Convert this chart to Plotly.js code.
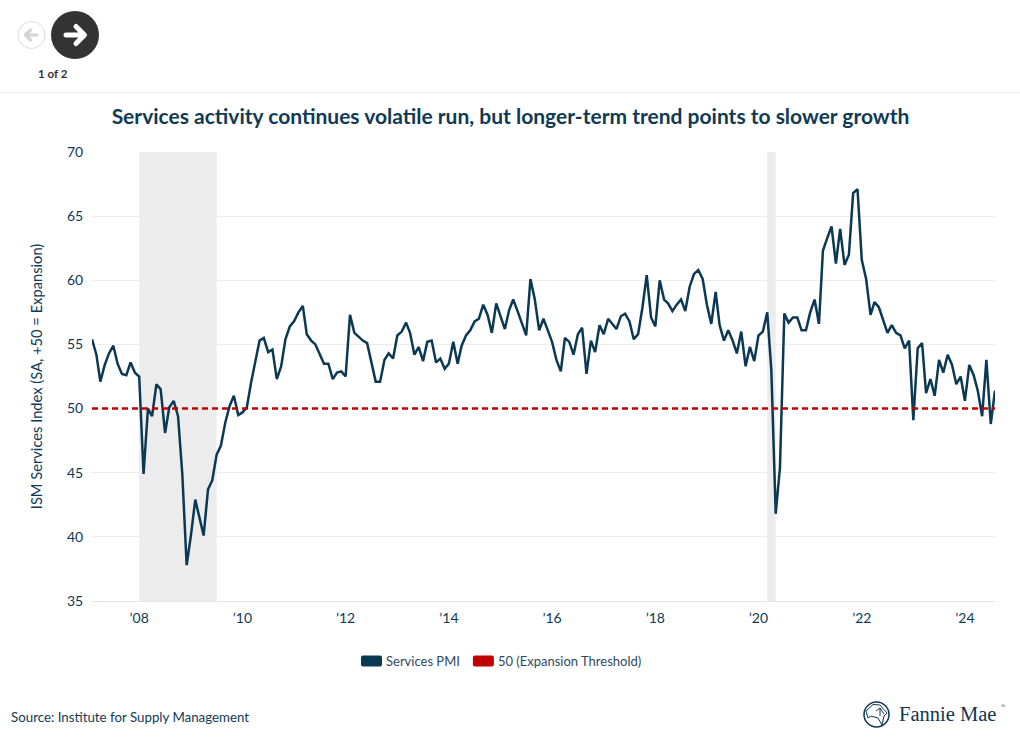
<!DOCTYPE html>
<html><head><meta charset="utf-8">
<script src="https://cdn.plot.ly/plotly-3.0.1.min.js"></script>
<style>
html,body{margin:0;padding:0;background:#fff;overflow:hidden}
#chart{position:absolute;left:0;top:0;width:1020px;height:743px}
#decor{position:absolute;left:0;top:0;pointer-events:none}
</style></head><body>
<div id="chart"></div>
<svg id="decor" width="1020" height="743" xmlns="http://www.w3.org/2000/svg">
  <circle cx="31.5" cy="35" r="13.5" fill="#fff" stroke="#dcdcdc" stroke-width="1"/>
  <path d="M37,35H26M30.5,30L25.5,35L30.5,40" fill="none" stroke="#d4d4d4" stroke-width="3.2" stroke-linecap="round" stroke-linejoin="round"/>
  <circle cx="75" cy="35" r="24" fill="#333333"/>
  <path d="M66,35H83M76,26.5L84.5,35L76,43.5" fill="none" stroke="#fff" stroke-width="5" stroke-linecap="round" stroke-linejoin="round"/>
  <g fill="none" stroke="#0f3550">
    <circle cx="876.5" cy="714.5" r="12.5" stroke-width="1.5"/>
    <path d="M866,711L873,704.5L880,705L887,713L884,716L882,725L878,718L871,716L868,718Z" stroke-width="1"/>
    <path d="M880,708L884,714M876,711L880,708L880,716" stroke-width="1"/>
  </g>
</svg>
<script>
var seriesName = 'Services PMI';
var thresholdName = '50 (Expansion Threshold)';
var startYear = 2007;
var pmiValues = [
55.4,54.2,52.1,53.4,54.3,54.9,53.5,52.7,52.6,53.6,52.8,52.5,
44.9,50.0,49.4,51.9,51.5,48.1,50.1,50.6,49.4,44.9,37.8,40.1,
42.9,41.4,40.1,43.7,44.4,46.4,47.1,48.9,50.2,51.0,49.5,49.7,
50.1,52.1,53.6,55.3,55.5,54.4,54.6,52.3,53.3,55.4,56.4,56.8,
57.5,58.0,55.8,55.3,55.0,54.3,53.5,53.5,52.3,52.8,52.9,52.5,
57.3,55.9,55.6,55.3,55.1,53.6,52.1,52.1,53.8,54.3,53.9,55.7,
56.0,56.7,55.9,54.2,54.8,53.7,55.2,55.3,53.6,53.9,53.1,53.5,
55.2,53.5,54.9,55.7,56.1,56.8,57.0,58.1,57.3,55.9,58.2,57.2,
56.2,57.7,58.5,57.6,56.7,55.7,60.1,58.5,56.1,57.0,56.1,55.2,
53.8,52.9,55.5,55.2,54.2,55.8,56.3,52.7,55.3,54.4,56.5,55.8,
57.0,56.6,56.2,57.2,57.4,56.8,55.4,55.8,57.9,60.4,57.1,56.4,
60.0,58.5,58.2,57.6,58.1,58.5,57.6,59.5,60.5,60.8,60.1,58.1,
56.6,59.1,56.5,55.3,56.1,55.3,54.3,56.0,53.3,54.8,53.7,55.7,
56.0,57.5,53.0,41.8,45.4,57.4,56.7,57.1,57.1,56.1,56.1,57.5,
58.5,56.6,62.3,63.3,64.2,61.3,64.0,61.2,62.0,66.8,67.1,61.6,
60.1,57.3,58.3,57.9,56.9,55.9,56.5,55.9,55.7,54.7,55.3,49.1,
54.7,55.1,51.2,52.3,51.0,53.8,52.8,54.2,53.4,51.9,52.5,50.6,
53.4,52.6,51.4,49.4,53.8,48.8,51.4
];
var thresholdDates = ['2007-01-01','2024-07-01'];
var thresholdValues = [50,50];
var tickDates = ['2007-12-01','2009-12-01','2011-12-01','2013-12-01','2015-12-01','2017-12-01','2019-12-01','2021-12-01','2023-12-01'];
var tickLabels = ['’08','’10','’12','’14','’16','’18','’20','’22','’24'];
var recessions = [['2007-12-01','2009-06-01'],['2020-02-01','2020-04-01']];

var pmiDates = pmiValues.map(function(_,i){
  var y = startYear + Math.floor(i/12), m = i%12 + 1;
  return y + '-' + (m<10?'0':'') + m + '-01';
});

var NAVY='#0b3954', RED='#c00000', FONT='"Lato",sans-serif', TEXT='#0f3a55';

var traces = [
 {x:pmiDates,y:pmiValues,name:seriesName,type:'scatter',mode:'lines',line:{color:NAVY,width:2.5,shape:'linear'}},
 {x:thresholdDates,y:thresholdValues,name:thresholdName,type:'scatter',mode:'lines',line:{color:RED,width:2.5,dash:'6px,4px'}}
];
var shapes = recessions.map(function(r){
  return {type:'rect',xref:'x',yref:'paper',x0:r[0],x1:r[1],y0:0,y1:1,fillcolor:'#ececec',line:{width:0},layer:'below'};
});
shapes.push({type:'line',xref:'paper',yref:'paper',x0:-92/903,x1:928/903,y0:(601-92.5)/449,y1:(601-92.5)/449,line:{color:'#e9e9e9',width:1}});

var layout = {
  width:1020,height:743,
  margin:{l:92,r:25,t:152,b:142,pad:0},
  paper_bgcolor:'#fff',plot_bgcolor:'#fff',
  font:{family:FONT,color:TEXT,size:14},
  title:{text:'Services activity continues volatile run, but longer-term trend points to slower growth',
    font:{family:FONT,size:21,color:TEXT,weight:700},x:510.5/1020,xanchor:'center',y:1-117/743,yanchor:'middle'},
  xaxis:{type:'date',range:['2007-01-01','2024-07-01'],tickmode:'array',tickvals:tickDates,ticktext:tickLabels,
    showgrid:false,zeroline:false,showline:true,linecolor:'#e6e6e6',linewidth:1,ticks:'outside',ticklen:4,tickcolor:'rgba(0,0,0,0)',
    tickfont:{size:14,color:TEXT,family:FONT}},
  yaxis:{range:[35,70],tickmode:'array',tickvals:[35,40,45,50,55,60,65,70],gridcolor:'#ececec',gridwidth:1,zeroline:false,
    ticks:'outside',ticklen:5,tickcolor:'rgba(0,0,0,0)',tickfont:{size:14,color:TEXT,family:FONT},
    title:{text:'ISM Services Index (SA, +50 = Expansion)',font:{size:14.7,color:TEXT,family:FONT},standoff:20}},
  showlegend:true,
  legend:{orientation:'h',x:(346-92)/903,xanchor:'left',y:(601-646)/449,yanchor:'top',font:{size:13,color:'#2f4a5e',family:FONT},
    traceorder:'normal',itemclick:false,itemdoubleclick:false,bgcolor:'rgba(0,0,0,0)'},
  shapes:shapes,
  annotations:[
   {text:'1 of 2',xref:'paper',yref:'paper',x:(53-92)/903,y:(601-74)/449,showarrow:false,xanchor:'center',yanchor:'middle',font:{size:11.5,color:'#333',family:FONT,weight:700}},
   {text:'Source: Institute for Supply Management',xref:'paper',yref:'paper',x:(9-92)/903,y:(601-717)/449,showarrow:false,xanchor:'left',yanchor:'middle',font:{size:13.3,color:TEXT,family:FONT}},
   {text:'Fannie Mae',xref:'paper',yref:'paper',x:(897-92)/903,y:(601-714)/449,showarrow:false,xanchor:'left',yanchor:'middle',font:{size:20.5,color:'#0f3550',family:'"Liberation Serif",serif'}},
   {text:'®',xref:'paper',yref:'paper',x:(999-92)/903,y:(601-706)/449,showarrow:false,xanchor:'left',yanchor:'middle',font:{size:6,color:'#0f3550',family:'"Liberation Serif",serif'}}
  ]
};
Plotly.newPlot('chart',traces,layout,{displayModeBar:false,staticPlot:true}).then(function(gd){
  gd.querySelectorAll('.legend .legendlines path').forEach(function(p){
    var c=p.style.stroke;
    p.setAttribute('d','M17,-5.5h17a2,2 0 0 1 2,2v7a2,2 0 0 1 -2,2h-17a2,2 0 0 1 -2,-2v-7a2,2 0 0 1 2,-2z');
    p.style.strokeWidth='0';
    p.style.strokeDasharray='none';
    p.style.fill=c;
  });
  var items=gd.querySelectorAll('.legend .traces');
  if(items[1]){
    var m=/translate\(([-\d.]+)[ ,]+([-\d.]+)\)/.exec(items[1].getAttribute('transform'));
    if(m) items[1].setAttribute('transform','translate('+(parseFloat(m[1])-7)+','+m[2]+')');
  }
});
</script>
</body></html>
